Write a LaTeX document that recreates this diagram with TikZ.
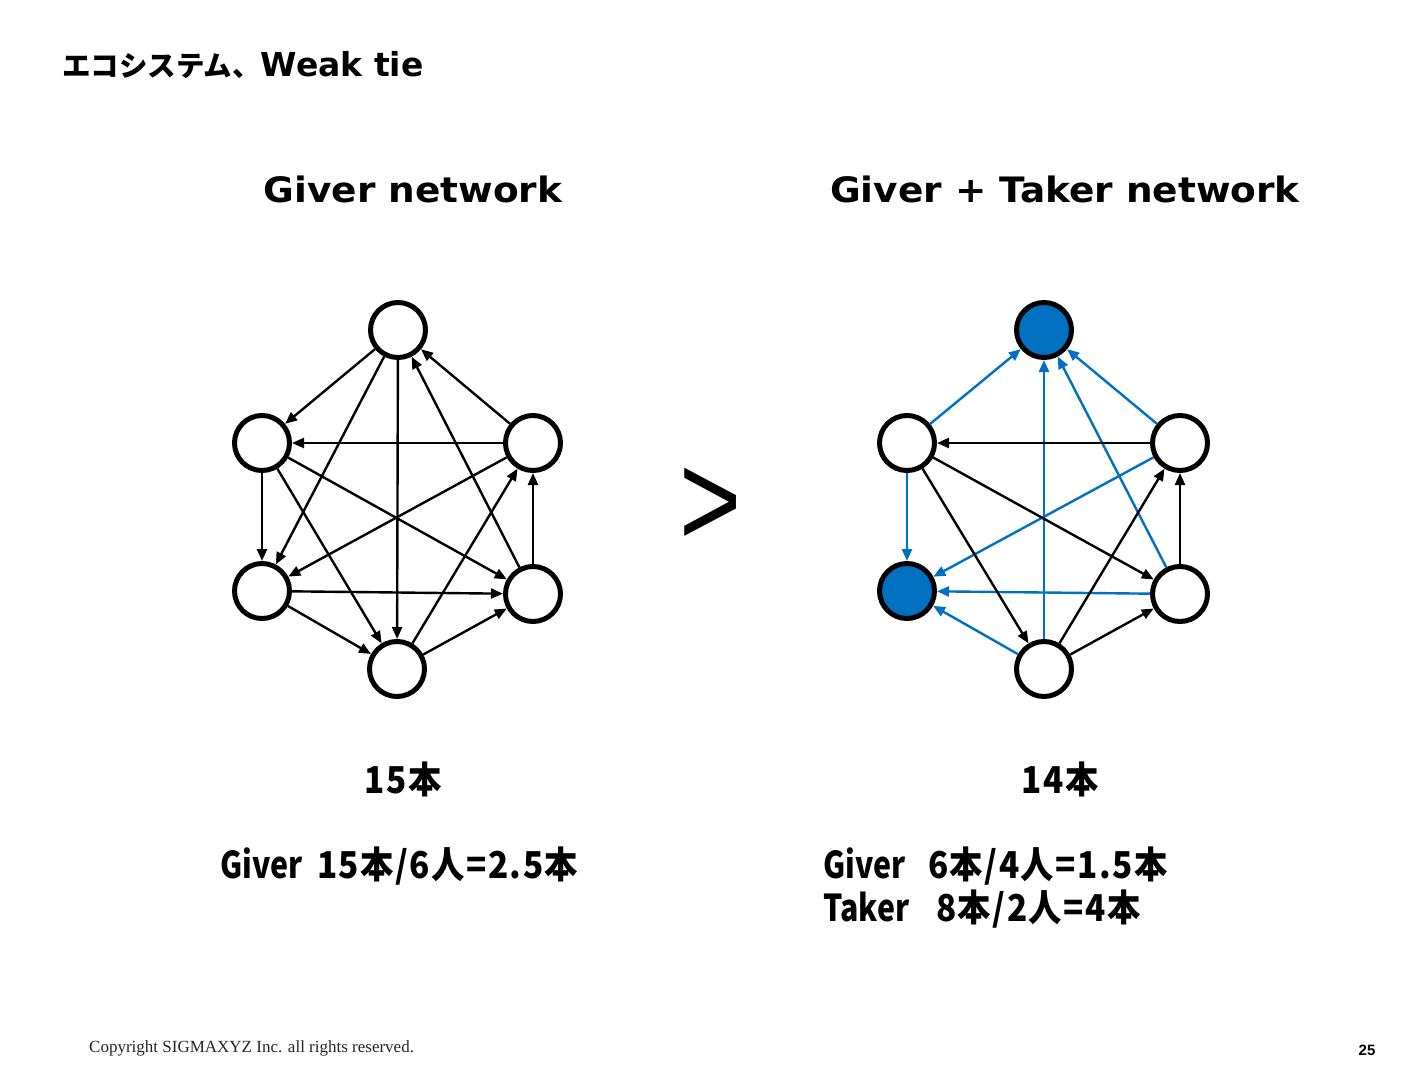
\documentclass[tikz,border=0pt]{standalone}
\usepackage{fontspec}
\setmainfont{Liberation Serif}
\newfontfamily\jpfont{Noto Sans CJK JP}
\newfontfamily\headfont{DejaVu Sans}[FakeStretch=1.07]
\newfontfamily\latfont{DejaVu Sans}
\newfontfamily\gothfont{Noto Sans CJK JP}[FakeStretch=0.9,LetterSpace=4]
\newfontfamily\gothlat{Noto Sans CJK JP}[FakeStretch=0.82]
\newfontfamily\pagefont{Liberation Sans}
\usetikzlibrary{arrows.meta}
\definecolor{takerblue}{HTML}{0070C0}
\newcommand{\role}[2]{\makebox[#1][l]{\gothlat\bfseries #2}}

\begin{document}
\begin{tikzpicture}[x=1pt, y=-1pt,
    vtx/.style={draw, circle, line width=5pt, minimum size=55pt, inner sep=0pt, fill=white},
    taker/.style={vtx, fill=takerblue},
    arr/.style={-{Triangle[length=12pt,width=10pt]}, line width=2.4pt},
    tarr/.style={arr, color=takerblue},
    heading/.style={anchor=base, font=\headfont\bfseries\fontsize{35}{40}\selectfont},
    count/.style={anchor=base, font=\gothfont\bfseries\fontsize{37}{40}\selectfont},
    ratio/.style={anchor=base west, inner sep=0pt, font=\gothfont\bfseries\fontsize{37}{40}\selectfont}
]
\useasboundingbox[fill=white] (0,0) rectangle (1424,1073);

\node[anchor=base west, inner sep=0pt] (title) at (62,77)
    {\jpfont\bfseries\fontsize{28.5}{34}\selectfont エコシステム、{\latfont\fontsize{33}{36}\selectfont Weak tie}};

\node[heading] (gnet) at (413,202) {Giver network};
\node[heading] (gtnet) at (1065,202) {Giver + Taker network};

% Giver network
\node[vtx] (lT) at (398,330) {};
\node[vtx] (lUL) at (262,443) {};
\node[vtx] (lUR) at (533,443) {};
\node[vtx] (lLL) at (262,591) {};
\node[vtx] (lLR) at (533,594) {};
\node[vtx] (lB) at (397,669) {};

\draw[arr] (lT) -- (lUL);
\draw[arr] (lUR) -- (lT);
\draw[arr] (lUR) -- (lUL);
\draw[arr] (lUL) -- (lLL);
\draw[arr] (lLR) -- (lUR);
\draw[arr] (lT) -- (lLL);
\draw[arr] (lT) -- (lB);
\draw[arr] (lLR) -- (lT);
\draw[arr] (lUL) -- (lLR);
\draw[arr] (lUL) -- (lB);
\draw[arr] (lUR) -- (lLL);
\draw[arr] (lLL) -- (lLR);
\draw[arr] (lLL) -- (lB);
\draw[arr] (lB) -- (lLR);
\draw[arr] (lB) -- (lUR);

\node[anchor=center, font=\pagefont\fontsize{112}{112}\selectfont] (gt) at (711,507) {\scalebox{0.95}[1.2]{>}};

% Giver + Taker network
\node[taker] (rT) at (1044,330) {};
\node[vtx] (rUL) at (907,443) {};
\node[vtx] (rUR) at (1180,443) {};
\node[taker] (rLL) at (907,591) {};
\node[vtx] (rLR) at (1180,594) {};
\node[vtx] (rB) at (1044,669) {};

\draw[tarr] (rUL) -- (rT);
\draw[tarr] (rB) -- (rT);
\draw[tarr] (rLR) -- (rT);
\draw[tarr] (rUR) -- (rT);
\draw[tarr] (rUL) -- (rLL);
\draw[tarr] (rUR) -- (rLL);
\draw[tarr] (rLR) -- (rLL);
\draw[tarr] (rB) -- (rLL);
\draw[arr] (rUR) -- (rUL);
\draw[arr] (rUL) -- (rLR);
\draw[arr] (rUL) -- (rB);
\draw[arr] (rB) -- (rUR);
\draw[arr] (rLR) -- (rUR);
\draw[arr] (rB) -- (rLR);

\node[count] (lcount) at (403,793) {15本};
\node[count] (rcount) at (1060,793) {14本};

\node[ratio] (lratio) at (220,878) {\role{97pt}{Giver}15本/6人=2.5本};
\node[ratio] (rgiver) at (823,878) {\role{105pt}{Giver}6本/4人=1.5本};
\node[ratio] (rtaker) at (823,921) {\role{113pt}{Taker}8本/2人=4本};

\node[anchor=base west, inner sep=0pt, text=black!85, font=\fontsize{17}{19}\selectfont] (copy) at (89,1052)
    {Copyright SIGMAXYZ Inc. all rights reserved.};
\node[anchor=base, inner sep=0pt, font=\pagefont\bfseries\fontsize{15}{18}\selectfont] (page) at (1367,1055) {25};
\end{tikzpicture}
\end{document}
